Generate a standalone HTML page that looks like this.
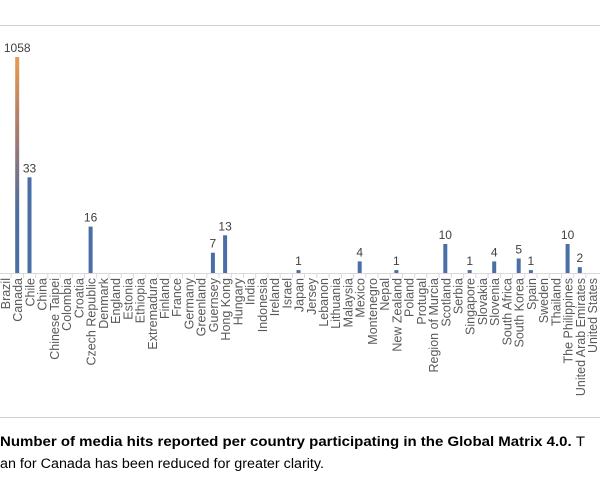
<!DOCTYPE html>
<html><head><meta charset="utf-8"><style>
html,body{margin:0;padding:0;background:#fff;width:600px;height:477px;overflow:hidden}
</style></head><body>
<svg width="600" height="477" xmlns="http://www.w3.org/2000/svg" font-family="Liberation Sans, sans-serif">
<defs><linearGradient id="g" x1="0" y1="57" x2="0" y2="273" gradientUnits="userSpaceOnUse">
<stop offset="0" stop-color="#e89a50"/><stop offset="0.35" stop-color="#a87a70"/><stop offset="0.7" stop-color="#4e6e9c"/><stop offset="1" stop-color="#4a6ea6"/></linearGradient></defs>
<line x1="0" y1="25.5" x2="600" y2="25.5" stroke="#d0d0d0"/>
<line x1="0" y1="417.5" x2="600" y2="417.5" stroke="#d0d0d0"/>
<line x1="0" y1="273.5" x2="600" y2="273.5" stroke="#d9d9d9"/>
<g id="ticks" stroke="#d9d9d9"></g>
<g id="bars"></g>
<g id="vals" font-size="12" fill="#404040" text-anchor="middle"></g>
<g id="labs" font-size="12.5" fill="#595959" text-anchor="end"></g>
<text x="0" y="446" font-size="13.5" font-weight="bold" fill="#000" textLength="585" lengthAdjust="spacingAndGlyphs">Number of media hits reported per country participating in the Global Matrix 4.0. <tspan font-weight="normal">T</tspan></text>
<text x="0" y="468" font-size="13.5" fill="#000" textLength="324" lengthAdjust="spacingAndGlyphs">an for Canada has been reduced for greater clarity.</text>
</svg>
<script>
(function(){
var names=["Brazil","Canada","Chile","China","Chinese Taipei","Colombia","Croatia","Czech Republic","Denmark","England","Estonia","Ethiopia","Extremadura","Finland","France","Germany","Greenland","Guernsey","Hong Kong","Hungary","India","Indonesia","Ireland","Israel","Japan","Jersey","Lebanon","Lithuania","Malaysia","Mexico","Montenegro","Nepal","New Zealand","Poland","Protugal","Region of Murcia","Scotland","Serbia","Singapore","Slovakia","Slovenia","South Africa","South Korea","Spain","Sweden","Thailand","The Philippines","United Arab Emirates","United States"];
var vv={1:1058,2:33,7:16,17:7,18:13,24:1,29:4,32:1,36:10,38:1,40:4,42:5,43:1,46:10,47:2};
var ns="http://www.w3.org/2000/svg";
function el(t,a,p,txt){var e=document.createElementNS(ns,t);for(var k in a)e.setAttribute(k,a[k]);if(txt)e.textContent=txt;document.getElementById(p).appendChild(e);}
for(var i=0;i<names.length;i++){
 var x=5+12.23*i;
 el("line",{x1:(x-6.1).toFixed(1),y1:273,x2:(x-6.1).toFixed(1),y2:278},"ticks");
 el("text",{transform:"translate("+(x+5).toFixed(1)+",278) rotate(-90)"},"labs",names[i]);
 if(vv[i]!==undefined){
  var v=vv[i],h=(i==1)?216:v*2.9,yt=273-h;
  el("rect",{x:(x-2).toFixed(1),y:yt.toFixed(1),width:4,height:h.toFixed(1),fill:i==1?"url(#g)":"#4a6ea6"},"bars");
  el("text",{x:x.toFixed(1),y:(yt-5).toFixed(1)},"vals",String(v));
 }
}
})();
</script>
</body></html>
